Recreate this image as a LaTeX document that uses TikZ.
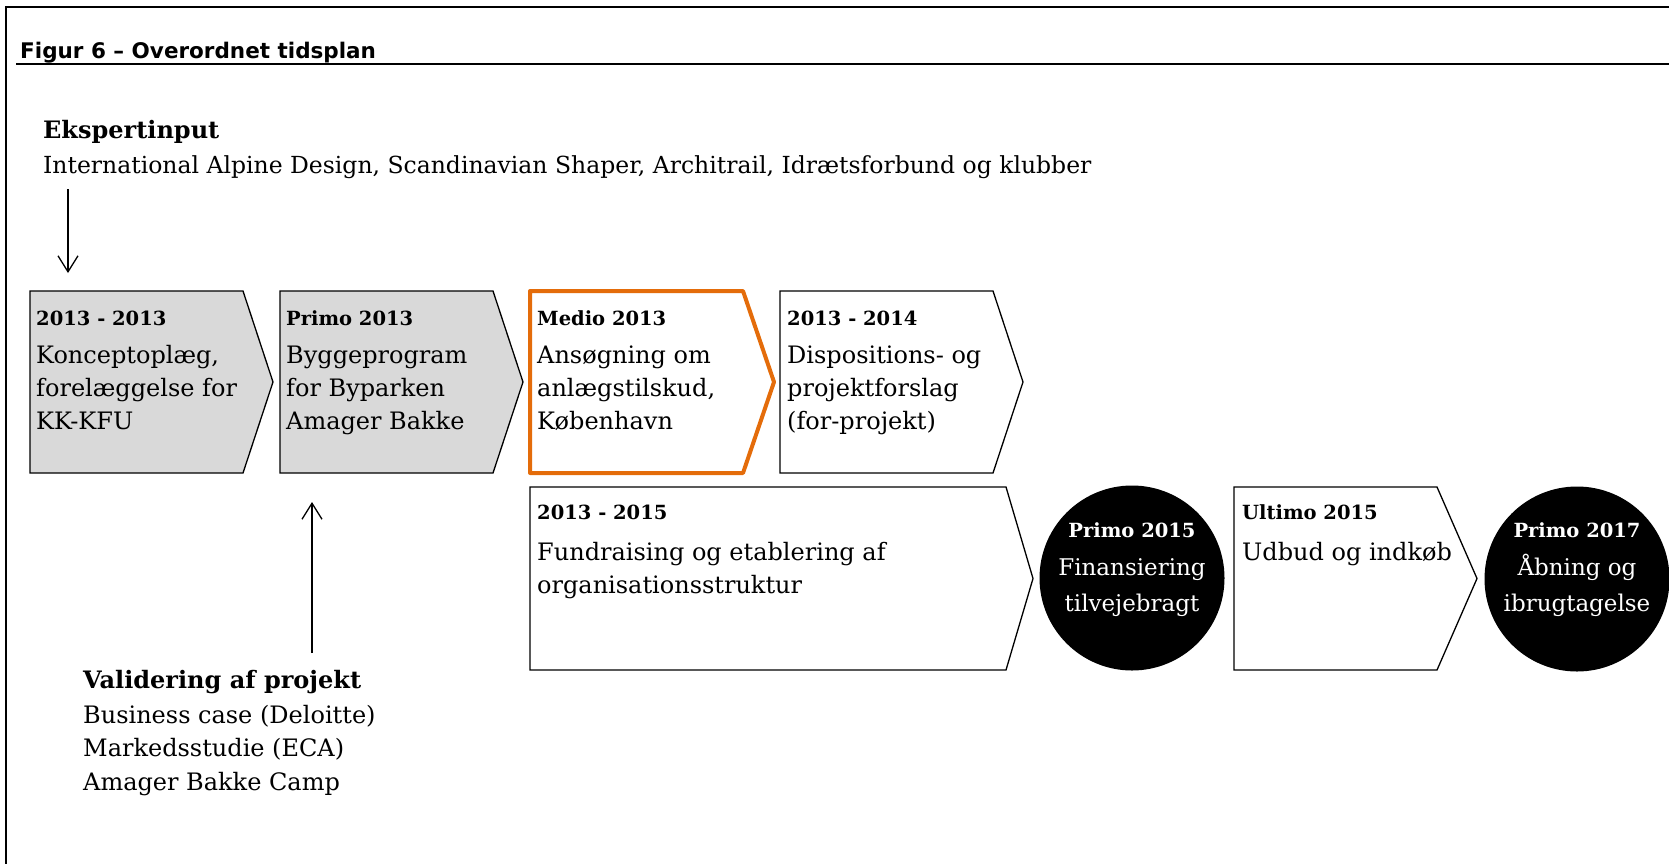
\documentclass[tikz,border=0pt]{standalone}
\usepackage{fontspec}
\setmainfont{DejaVu Serif}
\newfontfamily\titelfont{DejaVu Sans}
\usetikzlibrary{arrows.meta}

\definecolor{kasgraa}{HTML}{D9D9D9}
\definecolor{fremhaev}{HTML}{E46C0A}

\begin{document}
\begin{tikzpicture}[x=1pt,y=-1pt,
  fase/.style={draw=black,line width=1.3pt,line join=miter},
  aar/.style={anchor=base west,inner sep=0pt,font=\fontsize{19.5}{23}\selectfont\bfseries},
  tekst/.style={anchor=base west,inner sep=0pt,align=left,font=\fontsize{24}{33}\selectfont},
  pil/.style={-{Straight Barb[length=16pt,width=20pt]},line width=1.3pt},
  rund/.style={circle,fill=black,minimum size=185pt,inner sep=0pt}]
\useasboundingbox (0,0) rectangle (1669,863);
% ramme og titel
\draw[line width=2pt] (6,870) -- (6,7) -- (1675,7);
\draw[line width=2pt] (16,64) -- (1675,64);
\node[anchor=base west,inner sep=0pt,font=\titelfont\fontsize{21.5}{25}\selectfont\bfseries] (titel) at (20,58) {Figur 6 – Overordnet tidsplan};
\node[anchor=base west,inner sep=0pt,font=\fontsize{24}{30}\selectfont\bfseries] (ekspert) at (43,138) {Ekspertinput};
\node[tekst,font=\fontsize{23.5}{30}\selectfont] (ekspertliste) at (43,173) {International Alpine Design, Scandinavian Shaper, Architrail, Idrætsforbund og klubber};

% faser, oeverste raekke (base = sidste linje)
\foreach \x/\fyld in {30/kasgraa,280/kasgraa,780/white}
  \draw[fase,fill=\fyld] (\x,291) -- ++(213,0) -- ++(30,91) -- ++(-30,91) -- ++(-213,0) -- cycle;
\draw[draw=fremhaev,fill=white,line width=4pt,line join=round] (530,291) -- ++(213,0) -- ++(31,91) -- ++(-31,91) -- ++(-213,0) -- cycle;
\node[aar] (f1aar) at (36,325) {2013 - 2013};
\node[tekst] (f1) at (36,429) {Konceptoplæg,\\forelæggelse for\\KK-KFU};
\node[aar] (f2aar) at (286,325) {Primo 2013};
\node[tekst] (f2) at (286,429) {Byggeprogram\\for Byparken\\Amager Bakke};
\node[aar] (f3aar) at (537,325) {Medio 2013};
\node[tekst] (f3) at (537,429) {Ansøgning om\\anlægstilskud,\\København};
\node[aar] (f4aar) at (787,325) {2013 - 2014};
\node[tekst] (f4) at (787,429) {Dispositions- og\\projektforslag\\(for-projekt)};

% anden raekke
\draw[fase] (530,487) -- ++(476,0) -- ++(27,91.5) -- ++(-27,91.5) -- ++(-476,0) -- cycle;
\draw[fase] (1234,487) -- ++(203,0) -- ++(40,91.5) -- ++(-40,91.5) -- ++(-203,0) -- cycle;
\node[aar] (f5aar) at (537,519) {2013 - 2015};
\node[tekst] (f5) at (537,593) {Fundraising og etablering af\\organisationsstruktur};
\node[aar] (f6aar) at (1242,519) {Ultimo 2015};
\node[tekst] (f6) at (1242,560) {Udbud og indkøb};

\node[rund] (m1) at (1132,578) {};
\node[rund] (m2) at (1577,579) {};
\node[aar,anchor=base,text=white] (m1aar) at (1132,537) {Primo 2015};
\node[tekst,anchor=base,align=center,text=white,font=\fontsize{23}{36}\selectfont] (m1tekst) at (1132,611) {Finansiering\\tilvejebragt};
\node[aar,anchor=base,text=white] (m2aar) at (1577,537) {Primo 2017};
\node[tekst,anchor=base,align=center,text=white,font=\fontsize{23}{36}\selectfont] (m2tekst) at (1577,611) {Åbning og\\ibrugtagelse};

% validering
\node[anchor=base west,inner sep=0pt,font=\fontsize{24}{30}\selectfont\bfseries] (validering) at (83,688) {Validering af projekt};
\node[tekst,font=\fontsize{24}{33.5}\selectfont] (valideringliste) at (83,790) {Business case (Deloitte)\\Markedsstudie (ECA)\\Amager Bakke Camp};

% pile
\coordinate (ekspertpil) at (68,189);
\coordinate (f1pil) at (68,273);
\coordinate (valideringpil) at (312,653);
\coordinate (f2pil) at (312,502);
\draw[pil] (ekspertpil) -- (f1pil);
\draw[pil] (valideringpil) -- (f2pil);
\end{tikzpicture}
\end{document}
